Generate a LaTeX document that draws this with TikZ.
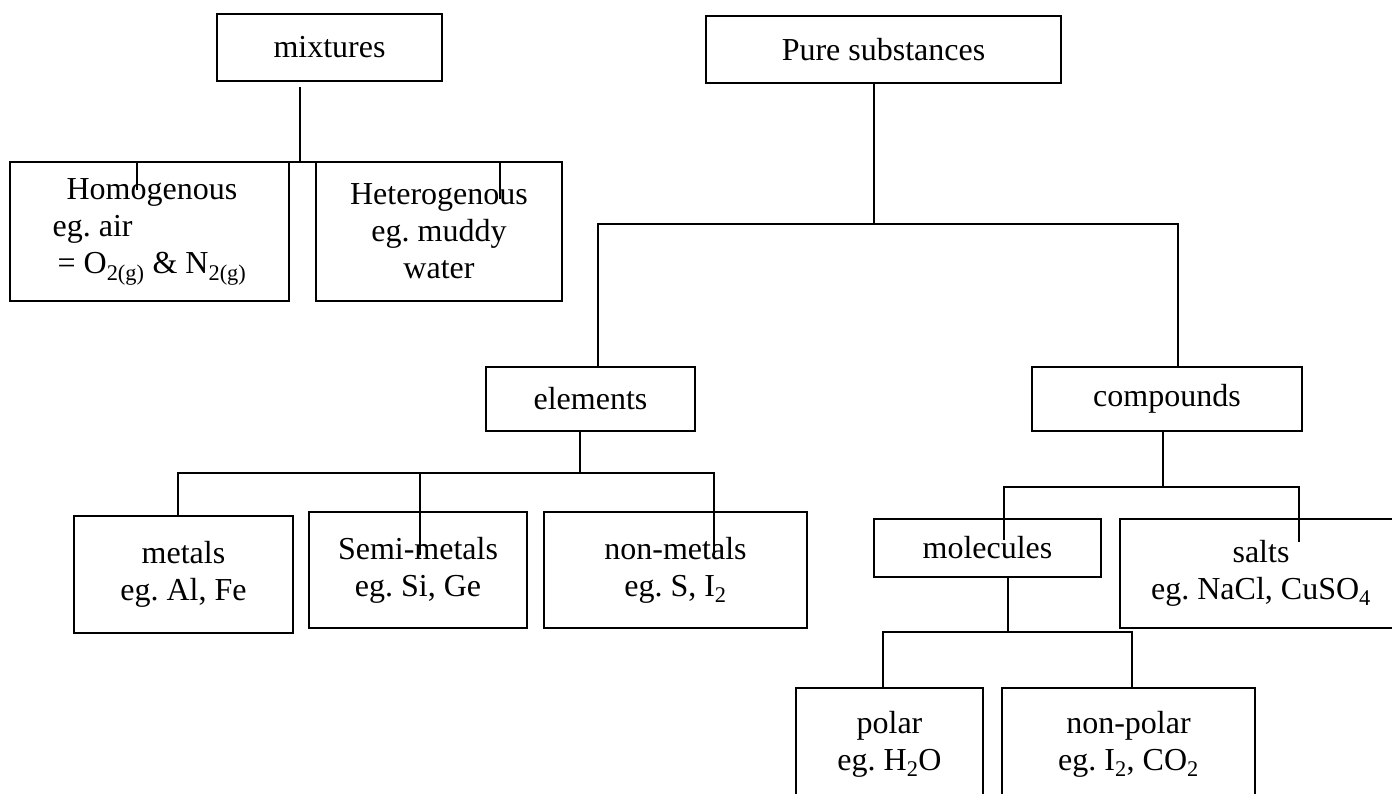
\documentclass[tikz,border=0pt]{standalone}
\usepackage{fontspec}
\setmainfont{Liberation Serif}
\frenchspacing

\begin{document}
\begin{tikzpicture}[x=1pt,y=-1pt,
        box/.style={draw, line width=1.6pt, inner sep=0pt, align=center,
          font=\fontsize{32}{37}\selectfont},
        link/.style={line width=1.6pt}]
        \useasboundingbox (0,0) rectangle (1392,794);
        % mixtures
        \node[box, minimum width=225pt, minimum height=67pt] (mix) at (329.5,47.5) {mixtures};
        \node[box, align=left, minimum width=279pt, minimum height=139pt] (homo) at (149.5,231.5)
          {\hspace{14pt}Homogenous\\eg. air\\\hspace{5pt}= O\textsubscript{2(g)} \& N\textsubscript{2(g)}\hspace{3pt}};
        \node[box, minimum width=246pt, minimum height=139pt] (hetero) at (439,231.5)
          {Heterogenous\\eg. muddy\\water};
        \coordinate (mixbus) at (300,162);
        \draw[link, shorten <=5pt] (mix.south -| mixbus) -- (mixbus);
        \draw[link] (137,190) |- (mixbus) -| (500,199);
        % pure substances
        \node[box, minimum width=355pt, minimum height=67pt] (pure) at (883.5,49.5) {Pure substances};
        \node[box, minimum width=209pt, minimum height=64pt] (elem) at (590.5,399) {elements};
        \node[box, minimum width=270pt, minimum height=64pt] (comp) at (1167,399) {compounds};
        \coordinate (purebus) at (874,224);
        \draw[link] (pure.south -| purebus) -- (purebus);
        \draw[link] (elem.north -| 598,0) |- (purebus) -| (comp.north -| 1178,0);
        % elements
        \node[box, minimum width=219pt, minimum height=117pt] (metal) at (183.5,574.5) {metals\\eg. Al, Fe};
        \node[box, minimum width=218pt, minimum height=116pt] (semi) at (418,570) {Semi-metals\\eg. Si, Ge};
        \node[box, minimum width=263pt, minimum height=116pt] (nonmetal) at (675.5,570)
          {non-metals\\eg. S, I\textsubscript{2}};
        \coordinate (elembus) at (580,473);
        \draw[link] (elem.south -| elembus) -- (elembus);
        \draw[link] (metal.north -| 178,0) |- (elembus) -| (714,555);
        \draw[link] (420,473) -- (420,555);
        % compounds
        \node[box, minimum width=227pt, minimum height=58pt] (mol) at (987.5,548) {molecules};
        \node[box, minimum width=282pt, minimum height=109pt] (salt) at (1261,573.5)
          {salts\\eg. NaCl, CuSO\textsubscript{4}};
        \coordinate (compbus) at (1163,487);
        \draw[link] (comp.south -| compbus) -- (compbus);
        \draw[link] (1004,540) |- (compbus) -| (1299,542);
        % molecules
        \node[box, minimum width=187pt, minimum height=112pt] (polar) at (889.5,744) {polar\\eg. H\textsubscript{2}O};
        \node[box, minimum width=253pt, minimum height=112pt] (nonpolar) at (1128.5,744)
          {non-polar\\eg. I\textsubscript{2}, CO\textsubscript{2}};
        \coordinate (molbus) at (1008,632);
        \draw[link] (mol.south -| molbus) -- (molbus);
        \draw[link] (polar.north -| 883,0) |- (molbus) -| (nonpolar.north -| 1132,0);
      \end{tikzpicture}
\end{document}
